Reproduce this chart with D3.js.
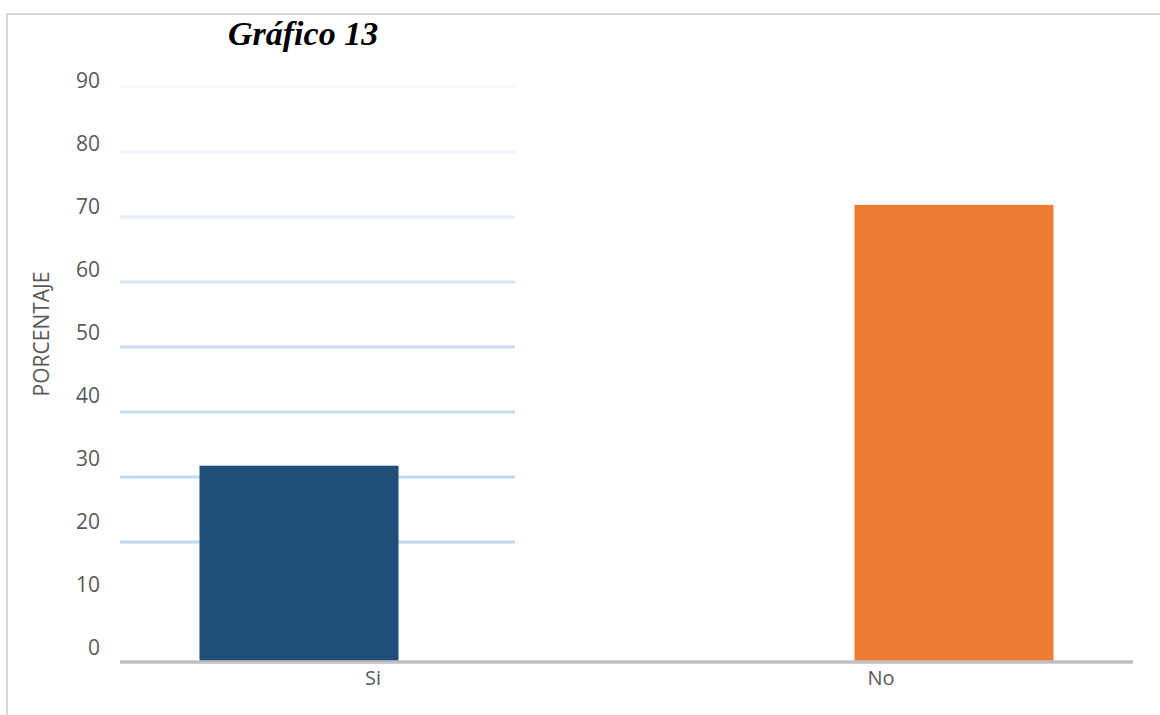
<!DOCTYPE html>
<html>
<head>
<meta charset="utf-8">
<script src="https://cdn.jsdelivr.net/npm/d3@7/dist/d3.min.js"></script>
<style>
  html, body { margin: 0; padding: 0; background: #fff; }
  svg { display: block; }
</style>
</head>
<body>
<svg id="chart" width="1160" height="715"></svg>
<script>
// ---- data ----
const categories = ["Si", "No"];
const values = [31, 72.4];
const barColors = ["#1f4e79", "#ed7d31"];
const yTicks = [0, 10, 20, 30, 40, 50, 60, 70, 80, 90];
const gridValues = [20, 30, 40, 50, 60, 70, 80, 90];
const title = "Gráfico 13";
const yTitle = "PORCENTAJE";

const svg = d3.select("#chart");

// frame
svg.append("line").attr("x1", 6).attr("x2", 1160).attr("y1", 14).attr("y2", 14)
  .attr("stroke", "#d9d9d9").attr("stroke-width", 2);
svg.append("line").attr("x1", 7).attr("x2", 7).attr("y1", 14).attr("y2", 715)
  .attr("stroke", "#d9d9d9").attr("stroke-width", 2);

// scales
const y = d3.scaleLinear().domain([0, 90]).range([661, 94]);
const yGrid = d3.scaleLinear().domain([0, 90]).range([672, 87]);
const x = d3.scaleBand().domain(categories).range([119, 1135]);
const barShift = { "Si": -74, "No": 73 };
const barW = 199;

// gridlines (partial, fading upward)
const gridColor = d3.scaleLinear().domain([20, 50, 90]).range(["#bdd7ee", "#c9def1", "#f6f9fc"]);
svg.append("g").selectAll("line").data(gridValues).join("line")
  .attr("x1", 120).attr("x2", 515)
  .attr("y1", d => yGrid(d)).attr("y2", d => yGrid(d))
  .attr("stroke", d => gridColor(d)).attr("stroke-width", 3);

// bars
svg.append("g").selectAll("rect").data(categories).join("rect")
  .attr("x", (d) => x(d) + x.bandwidth() / 2 + barShift[d] - barW / 2)
  .attr("width", barW)
  .attr("y", (d, i) => y(values[i]))
  .attr("height", (d, i) => y(0) - y(values[i]))
  .attr("fill", (d, i) => barColors[i]);

// baseline
svg.append("line").attr("x1", 120).attr("x2", 1133)
  .attr("y1", 662).attr("y2", 662)
  .attr("stroke", "#bfbfbf").attr("stroke-width", 3.5);

// y tick labels
svg.append("g").selectAll("text").data(yTicks).join("text")
  .attr("x", 100).attr("y", d => y(d) - 14.5)
  .attr("text-anchor", "end").attr("dominant-baseline", "central")
  .attr("font-family", "'Open Sans', sans-serif").attr("font-size", 21)
  .attr("fill", "#595959")
  .text(d => d);

// x labels
svg.append("g").selectAll("text").data(categories).join("text")
  .attr("x", d => x(d) + x.bandwidth() / 2).attr("y", 677)
  .attr("text-anchor", "middle").attr("dominant-baseline", "central")
  .attr("font-family", "'Open Sans', sans-serif").attr("font-size", 20)
  .attr("fill", "#595959")
  .text(d => d);

// y axis title
svg.append("text")
  .attr("transform", "translate(49,334) rotate(-90)")
  .attr("text-anchor", "middle")
  .attr("font-family", "'Open Sans', sans-serif").attr("font-size", 21)
  .attr("fill", "#595959")
  .text(yTitle);

// title
svg.append("text")
  .attr("x", 228).attr("y", 45)
  .attr("font-family", "'Liberation Serif', 'Times New Roman', serif")
  .attr("font-size", 34).attr("font-weight", "bold").attr("font-style", "italic")
  .attr("fill", "#000")
  .text(title);
</script>
</body>
</html>
